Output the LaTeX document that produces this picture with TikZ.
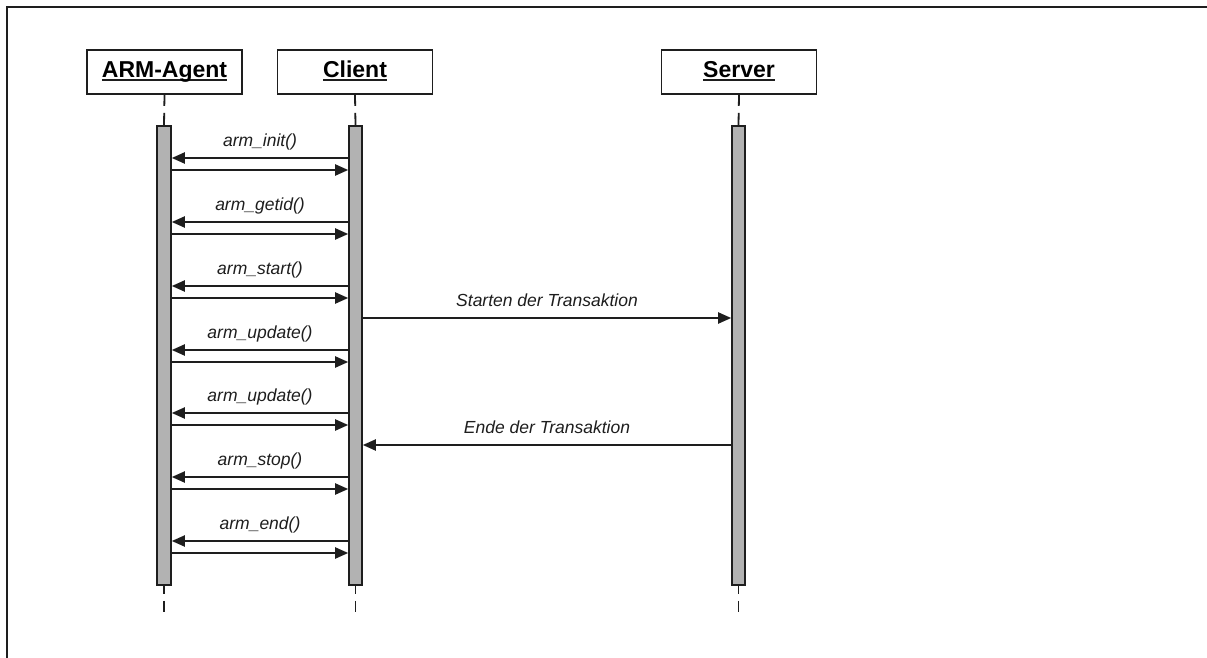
\documentclass[tikz,border=0pt]{standalone}
\usepackage{fontspec}
\setmainfont{Liberation Sans}
\usetikzlibrary{arrows.meta}
\definecolor{ink}{HTML}{1E1E1E}
\definecolor{barfill}{HTML}{B2B2B2}
% underlined heading text with a heavier rule than \underline gives
\newcommand\headtext[1]{\setbox0\hbox{#1}\rlap{\raisebox{-3.4pt}{\color{ink}\rule{\wd0}{2.1pt}}}\box0}
\tikzset{
  head/.style={draw=ink, line width=1.8pt, fill=white, minimum width=155pt, minimum height=44pt,
    inner sep=0pt, text height=14pt, text depth=3.4pt,
    font=\fontsize{23}{27}\selectfont\bfseries},
  actbar/.style={draw=ink, line width=1.6pt, fill=barfill, minimum width=13pt, minimum height=459pt, inner sep=0pt},
  lifeline/.style={draw=ink, line width=1.8pt},
  msg/.style={draw=ink, line width=2pt, -{Triangle[length=13pt,width=11pt]}},
  msglabel/.style={anchor=base, inner sep=0pt, font=\fontsize{17.5}{20}\selectfont\itshape, text=ink},
}
\begin{document}
\begin{tikzpicture}[x=1pt,y=-1pt]
\useasboundingbox (0,0) rectangle (1207,658);
\fill[white] (0,0) rectangle (1207,658);
% open frame: left and top edges
\draw[ink, line width=2pt] (7,658) -- (7,7) -- (1207,7);

% lifeline heads
\node[head] (agent)  at (164.5,72) {\headtext{ARM-Agent}};
\node[head] (client) at (355,72)   {\headtext{Client}};
\node[head] (server) at (739,72)   {\headtext{Server}};

% bottom ends of the lifelines
\coordinate (agentEnd)  at (164,612);
\coordinate (clientEnd) at (355.5,612);
\coordinate (serverEnd) at (738.5,612);

% activation bars
\node[actbar, minimum width=14pt] (barA) at (164,355.5) {};
\node[actbar] (barC) at (355.5,355.5) {};
\node[actbar] (barS) at (738.5,355.5) {};

% dashed lifeline pieces above and below the bars
\foreach \h/\b/\e in {agent/barA/agentEnd, client/barC/clientEnd, server/barS/serverEnd}{
  \draw[lifeline, dash pattern=on 11pt off 7pt on 30pt off 0pt] (\h.south) -- (\b.north);
  \draw[lifeline, dash pattern=on 8pt off 7pt on 30pt off 0pt] (\b.south) -- (\e);
}

% calls between client and ARM agent
\foreach \lab/\y in {arm\_init()/158, arm\_getid()/222, arm\_start()/286, arm\_update()/350,
                     arm\_update()/413, arm\_stop()/477, arm\_end()/541}{
  \draw[msg] (barC.west |- 0,\y) -- (barA.east |- 0,\y);
  \draw[msg] (barA.east |- 0,\y+12) -- (barC.west |- 0,\y+12);
  \node[msglabel] at (260,\y-11.3) {\lab};
}

% transaction start and end between client and server
\draw[msg] (barC.east |- 0,318) -- (barS.west |- 0,318);
\node[msglabel] at (547,306) {Starten der Transaktion};
\draw[msg] (barS.west |- 0,445) -- (barC.east |- 0,445);
\node[msglabel] at (547,433) {Ende der Transaktion};
\end{tikzpicture}
\end{document}
